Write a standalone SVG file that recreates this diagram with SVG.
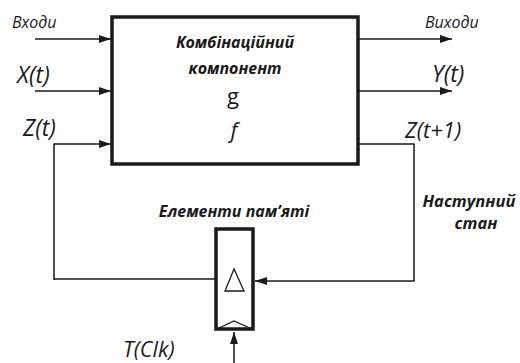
<svg xmlns="http://www.w3.org/2000/svg" width="520" height="363" viewBox="0 0 520 363">
<defs>
<marker id="ah" viewBox="0 0 12 8" refX="12" refY="4" markerWidth="12" markerHeight="8" markerUnits="userSpaceOnUse" orient="auto">
<path d="M0,0 L12,4 L0,8 Z" fill="#1a1a1a"/>
</marker>
</defs>
<style>
.t{font-family:"Open Sans","Noto Sans","Liberation Sans",sans-serif;fill:#1a1a1a}
.i{font-style:italic}
.b{font-weight:bold}
.ln{fill:none;stroke:#1a1a1a;stroke-width:1.5}
.box{fill:#fff;stroke:#1a1a1a;stroke-width:3.5}
</style>
<rect width="520" height="363" fill="#fff"/>
<g id="connectors">
<line class="ln" x1="35" y1="39" x2="111" y2="39" marker-end="url(#ah)"/>
<line class="ln" x1="35" y1="91" x2="111" y2="91" marker-end="url(#ah)"/>
<polyline class="ln" points="54,280 54,144 111,144" marker-end="url(#ah)"/>
<line class="ln" x1="54" y1="279" x2="215" y2="279"/>
<line class="ln" x1="358" y1="39" x2="452" y2="39" marker-end="url(#ah)"/>
<line class="ln" x1="358" y1="91" x2="452" y2="91" marker-end="url(#ah)"/>
<polyline class="ln" points="358,144 414,144 414,281 255,281" marker-end="url(#ah)"/>
<line class="ln" x1="234" y1="363" x2="234" y2="332" marker-end="url(#ah)"/>
</g>
<g id="comb">
<rect class="box" x="112" y="17" width="246" height="147"/>
<text class="t i b" x="235" y="48" font-size="16" text-anchor="middle">Комбінаційний</text>
<text class="t i b" x="235" y="74" font-size="16" text-anchor="middle">компонент</text>
<text class="t" x="233" y="104" font-size="22" text-anchor="middle">g</text>
<text class="t i" x="234" y="138" font-size="22" text-anchor="middle">f</text>
</g>
<g id="mem">
<rect class="box" x="216" y="229" width="37" height="100" stroke-width="3"/>
<polygon points="234,269 225,291 244,291" fill="#fff" stroke="#1a1a1a" stroke-width="1.3"/>
<polyline points="217,329 234,321 252,329" fill="none" stroke="#1a1a1a" stroke-width="1.3"/>
<text class="t i b" x="234" y="217" font-size="16" text-anchor="middle">Елементи пам’яті</text>
</g>
<g id="labels">
<text class="t i" x="12" y="28" font-size="16">Входи</text>
<text class="t i" x="17" y="83" font-size="23">X(t)</text>
<text class="t i" x="23" y="136" font-size="23">Z(t)</text>
<text class="t i" x="425" y="28" font-size="16">Виходи</text>
<text class="t i" x="432" y="82" font-size="23">Y(t)</text>
<text class="t i" x="405" y="138" font-size="22">Z(t+1)</text>
<text class="t i b" x="469" y="207" font-size="16.5" text-anchor="middle">Наступний</text>
<text class="t i b" x="476" y="229" font-size="16.5" text-anchor="middle">стан</text>
<text class="t i" x="123" y="357" font-size="21.5">T(Clk)</text>
</g>
</svg>
